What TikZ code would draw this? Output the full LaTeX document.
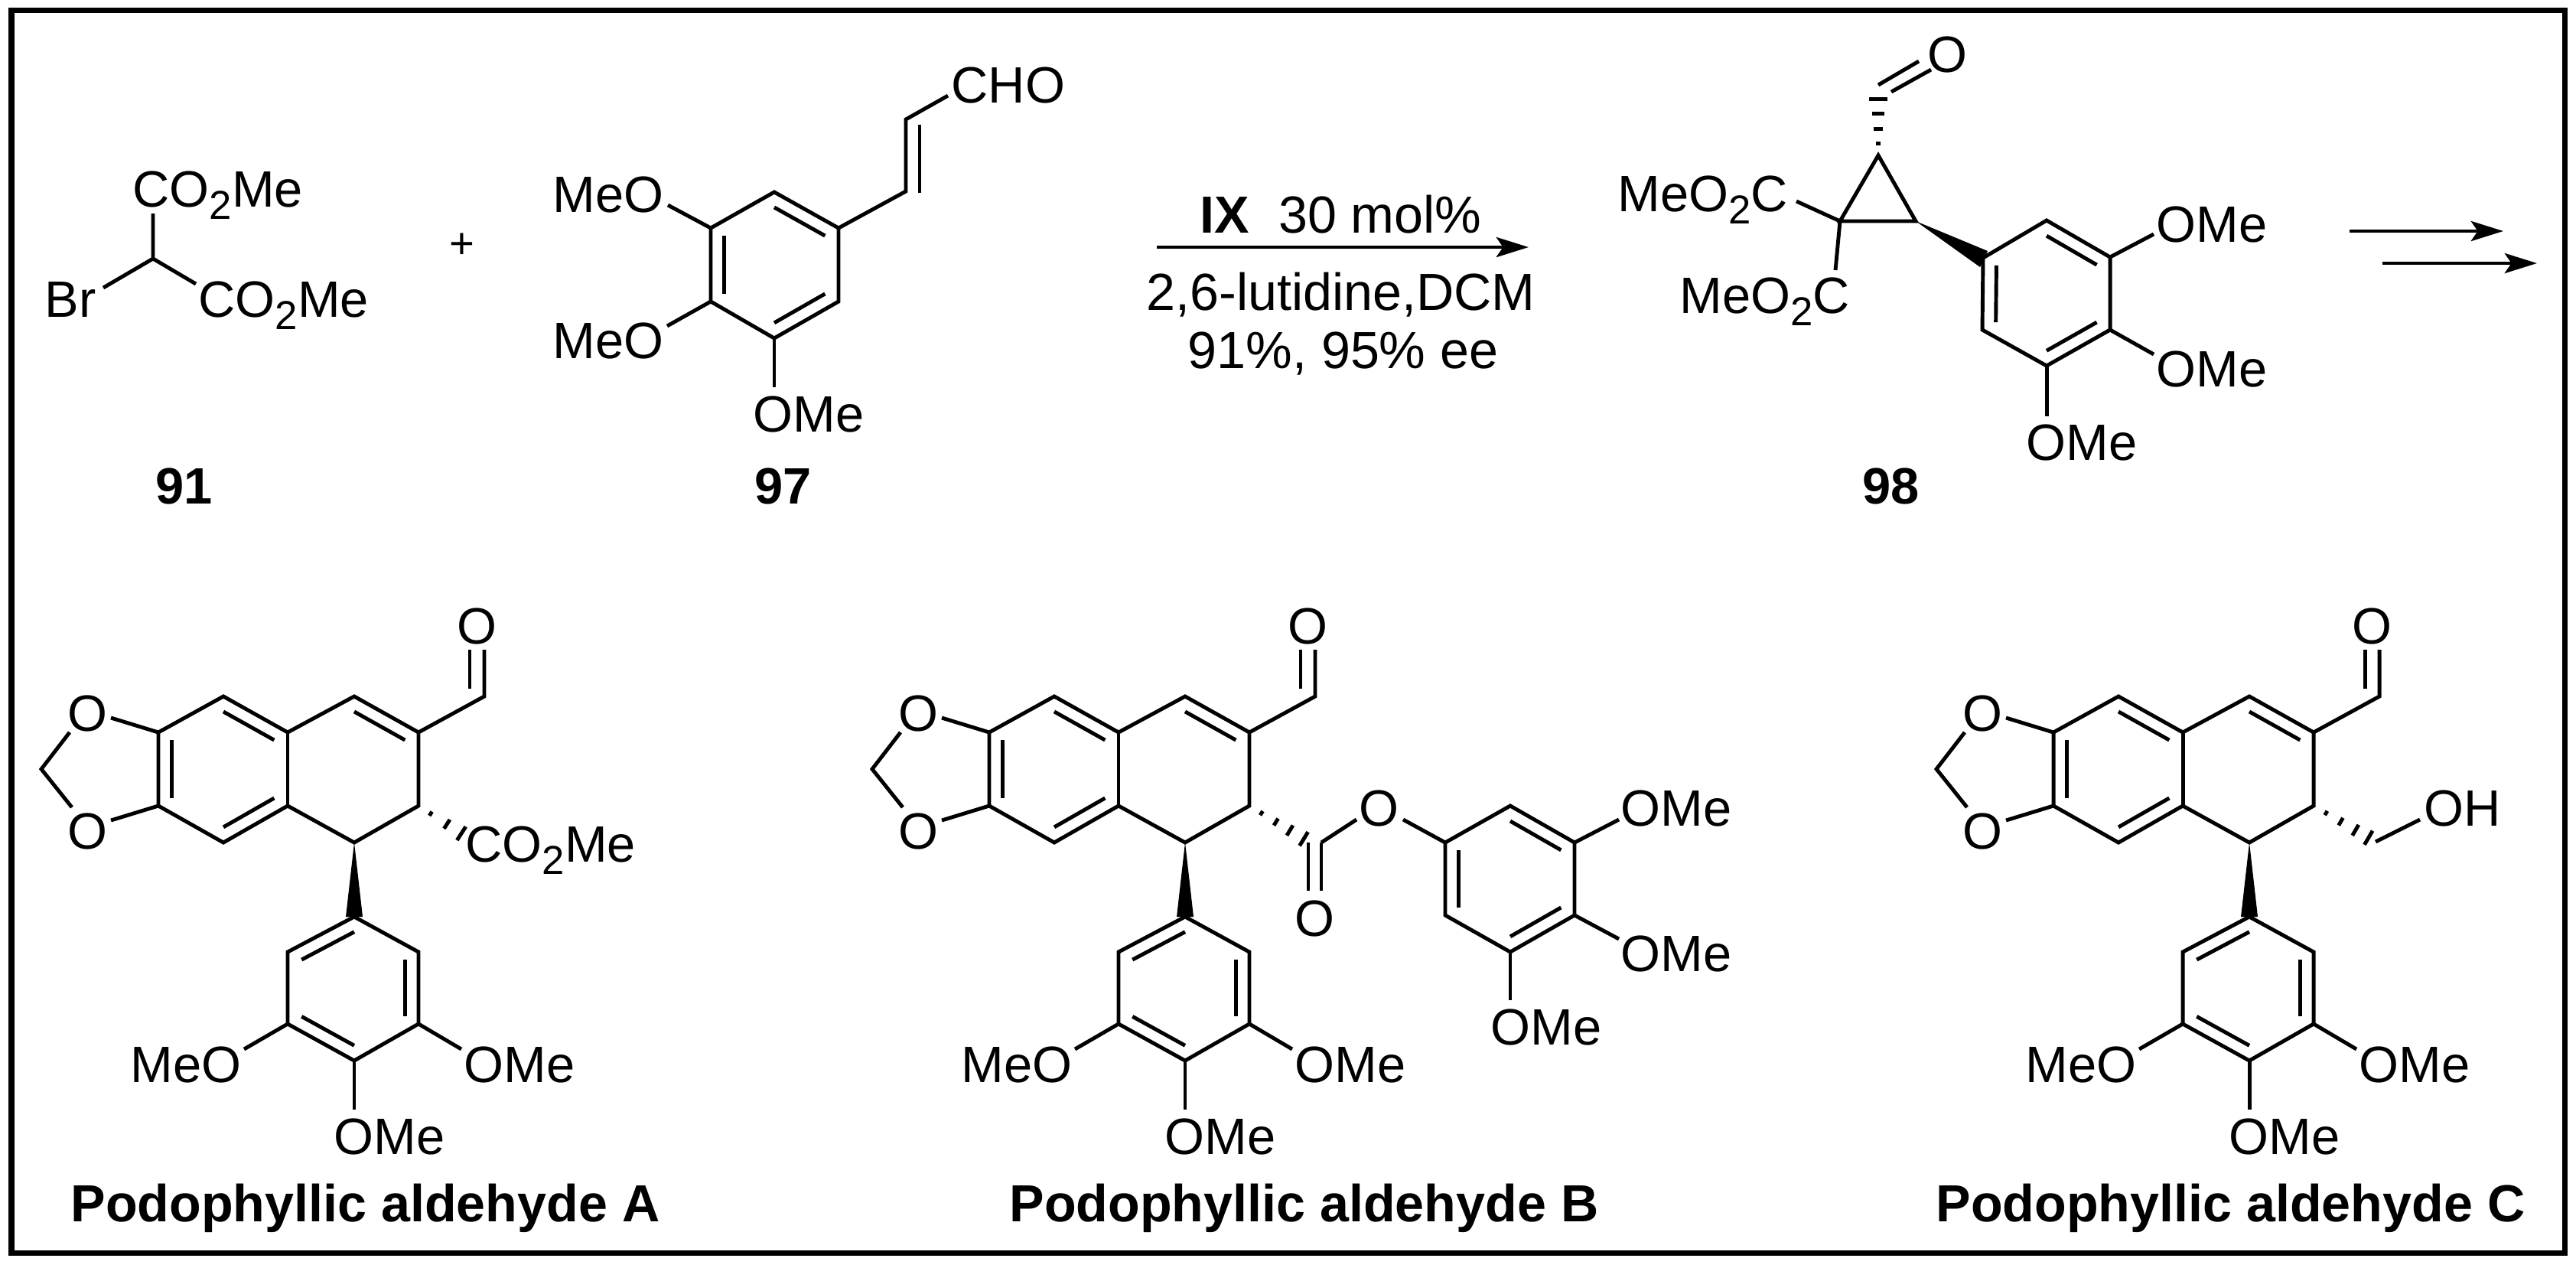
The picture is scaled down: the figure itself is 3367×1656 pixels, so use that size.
\documentclass[tikz,border=0pt]{standalone}
\usepackage{fontspec}
\setmainfont{Liberation Sans}
\usetikzlibrary{calc,arrows.meta}
\newcommand{\subtwo}{\raisebox{-.24em}{\fontsize{15}{15}\selectfont 2}}
\newcommand{\innerbond}[3]{\draw[bond]($(#1)!.21!(#3)$)--($(#2)!.21!(#3)$);}
\newcommand{\hashbond}[3]{\foreach \s/\w in {#3}{\draw[bond]($(#1)!\s!(#2)!\w pt!90:(#2)$)--($(#1)!\s!(#2)!\w pt!-90:(#2)$);}}
\tikzset{
  bond/.style={line width=1.4pt,line cap=butt},
  lab/.style={anchor=base west,inner sep=0pt,font=\fontsize{19}{20}\selectfont},
  cond/.style={anchor=base west,inner sep=0pt,font=\fontsize{19.4}{20}\selectfont},
  numlab/.style={anchor=base west,inner sep=0pt,font=\fontsize{19}{20}\selectfont\bfseries},
  titlelab/.style={anchor=base west,inner sep=0pt,font=\fontsize{19.4}{20}\selectfont\bfseries},
  rxn/.style={line width=1.4pt,-{Stealth[length=12pt,width=7.4pt,inset=2.5pt]}},
  pics/podocore/.style={code={
    \foreach \n/\x/\y in {ch/54/1005,oa/91/957,ob/94/1055,oc/145/938,od/145/1072,
      a1/207/957,a2/207/1053,a3/292/910,a4/376/957,a5/376/1053,a6/292/1101,
      b1/463/910,b2/547/957,b3/547/1053,b4/463/1101,ca/292/1005,cb/463/1005,
      cho/633/910,ce/633/849,cf/614/849,cg/614/900,
      t/463/1198,tl/376/1244,tr/547/1244,bl/376/1338,br/547/1338,bt/463/1386,ct/463/1292,
      wl/452/1198,wr/474/1198,ml/319/1371,mr/603/1371,mb/463/1450}
      \coordinate(-\n) at(\x,\y);
    \node[lab](-otop) at(88,955){O};
    \node[lab](-obot) at(88,1109){O};
    \node[lab](-oald) at(597,841){O};
    \node[lab](-meo) at(170,1414){MeO};
    \node[lab](-omer) at(606,1414){OMe};
    \node[lab](-omeb) at(436,1508){OMe};
    \draw[bond,line join=miter](-oa)--(-ch)--(-ob);
    \draw[bond](-oc)--(-a1)--(-a2)--(-od);
    \draw[bond](-a1)--(-a3)--(-a4)--(-b1)--(-b2)--(-b3)--(-b4)--(-a5)--(-a6)--(-a2);
    \draw[bond](-a4)--(-a5);
    \draw[bond](-b2)--(-cho)--(-ce);
    \draw[bond](-cf)--(-cg);
    \innerbond{-a1}{-a2}{-ca}
    \innerbond{-a3}{-a4}{-ca}
    \innerbond{-a5}{-a6}{-ca}
    \innerbond{-b1}{-b2}{-cb}
    \fill(-b4)--(-wl)--(-wr)--cycle;
    \draw[bond,line join=miter](-t)--(-tl)--(-bl)--(-bt)--(-br)--(-tr)--cycle;
    \innerbond{-t}{-tl}{-ct}
    \innerbond{-tr}{-br}{-ct}
    \innerbond{-bl}{-bt}{-ct}
    \draw[bond](-bl)--(-ml);
    \draw[bond](-br)--(-mr);
    \draw[bond](-bt)--(-mb);
  }}
}
\begin{document}
\begin{tikzpicture}[x=.01cm,y=-.01cm]
\useasboundingbox(0,0)rectangle(3367,1656);
\draw[line width=2pt](15,13)rectangle(3352,1637);
\coordinate(m1) at(200,338);
\coordinate(m2) at(200,279);
\coordinate(m3) at(135,376);
\coordinate(m4) at(256,371);
\node[lab](est1) at(173,270){CO\subtwo Me};
\node[lab](est2) at(259,414){CO\subtwo Me};
\node[lab](brom) at(58,414){Br};
\draw[bond](m2)--(m1)--(m3);
\draw[bond](m1)--(m4);
\node[lab,font=\fontsize{16}{16}\selectfont,anchor=center](plus) at(604,321){+};
\node[numlab](n91) at(203,658){91};
\foreach \n/\x/\y in {r1/1012/251,r2/929/298,r3/929/394,r4/1012/442,r5/1096/394,r6/1096/298,rc/1012/346,
  v1/1184/250,v2/1184/156,v3/1202/163,v4/1202/252,v5/1239/125,e1/873/268,e2/872/426,e3/1012/506}
  \coordinate(\n) at(\x,\y);
\draw[bond,line join=miter](r1)--(r2)--(r3)--(r4)--(r5)--(r6)--cycle;
\innerbond{r2}{r3}{rc}
\innerbond{r1}{r6}{rc}
\innerbond{r4}{r5}{rc}
\draw[bond,line join=miter](r6)--(v1)--(v2)--(v5);
\draw[bond](v3)--(v4);
\draw[bond](r2)--(e1);
\draw[bond](r3)--(e2);
\draw[bond](r4)--(e3);
\node[lab](cho97) at(1243,134){CHO};
\node[lab](meo1) at(722,277){MeO};
\node[lab](meo2) at(722,468){MeO};
\node[lab](ome97) at(984,564){OMe};
\node[numlab](n97) at(986,658){97};
\coordinate(arw1) at(1512,323);
\coordinate(arw2) at(1998,323);
\draw[rxn](arw1)--(arw2);
\node[cond](cat) at(1568,304){\textbf{IX}\ \ 30 mol\%};
\node[cond](base) at(1498,405){2,6-lutidine,DCM};
\node[cond](yield) at(1552,481){91\%, 95\% ee};
\foreach \n/\x/\y in {p1/2455/203,p2/2405/289,p3/2504/289,p4/2455/127,
  f1/2455/111,f2/2508/80,f3/2472/120,f4/2524/91,g1/2348/263,g2/2399/353,
  w1/2598/328,w2/2588/349,c1/2592/337,c2/2675/288,c3/2758/336,c4/2758/431,c5/2675/478,c6/2591/431,cc/2675/384,
  h1/2815/306,h2/2815/463,h3/2675/544}
  \coordinate(\n) at(\x,\y);
\draw[bond,line join=miter](p1)--(p2)--(p3)--cycle;
\hashbond{p1}{p4}{.2/.9,.46/1.6,.72/2.3,.97/3.4}
\draw[bond](f1)--(f2);
\draw[bond](f3)--(f4);
\draw[bond](p2)--(g1);
\draw[bond](p2)--(g2);
\fill(p3)--(w1)--(w2)--cycle;
\draw[bond,line join=miter](c1)--(c2)--(c3)--(c4)--(c5)--(c6)--cycle;
\innerbond{c2}{c3}{cc}
\innerbond{c4}{c5}{cc}
\innerbond{c1}{c6}{cc}
\draw[bond](c3)--(h1);
\draw[bond](c4)--(h2);
\draw[bond](c5)--(h3);
\node[lab](oald98) at(2519,94){O};
\node[lab](est3) at(2114,276){MeO\subtwo C};
\node[lab](est4) at(2195,409){MeO\subtwo C};
\node[lab](ome1) at(2818,316){OMe};
\node[lab](ome2) at(2818,505){OMe};
\node[lab](ome3) at(2648,601){OMe};
\node[numlab](n98) at(2434,658){98};
\coordinate(arw3) at(3071,302);
\coordinate(arw4) at(3272,302);
\coordinate(arw5) at(3114,344);
\coordinate(arw6) at(3316,344);
\draw[rxn](arw3)--(arw4);
\draw[rxn](arw5)--(arw6);
\pic(A) at(0,0){podocore};
\coordinate(Ah) at(606,1091);
\hashbond{A-b3}{Ah}{.27/.9,.63/2,.95/3}
\node[lab](estA) at(608,1126){CO\subtwo Me};
\node[titlelab](titleA) at(92,1596){Podophyllic aldehyde A};
\pic(B) at(1086,0){podocore};
\foreach \n/\x/\y in {q0/1723/1101,q1/1710/1101,q2/1710/1164,q3/1727/1101,q4/1727/1164,q5/1773/1071,q6/1834/1071,
  s1/1889/1101,s2/1974/1053,s3/2058/1101,s4/2058/1196,s5/1974/1244,s6/1889/1196,sc/1974/1148,
  u1/2116/1071,u2/2116/1227,u3/1974/1307,qh/1712/1101}
  \coordinate(\n) at(\x,\y);
\hashbond{B-b3}{qh}{.2/.9,.44/1.5,.67/2.2,.9/3}
\draw[bond](q3)--(q4);
\draw[bond](q1)--(q2);
\draw[bond](q5)--(q3);
\draw[bond](q6)--(s1);
\draw[bond,line join=miter](s1)--(s2)--(s3)--(s4)--(s5)--(s6)--cycle;
\innerbond{s2}{s3}{sc}
\innerbond{s4}{s5}{sc}
\innerbond{s1}{s6}{sc}
\draw[bond](s3)--(u1);
\draw[bond](s4)--(u2);
\draw[bond](s5)--(u3);
\node[lab](oket) at(1692,1223){O};
\node[lab](oest) at(1776,1079){O};
\node[lab](omeB1) at(2118,1079){OMe};
\node[lab](omeB2) at(2118,1269){OMe};
\node[lab](omeB3) at(1948,1365){OMe};
\node[titlelab](titleB) at(1319,1596){Podophyllic aldehyde B};
\pic(C) at(2477,0){podocore};
\coordinate(k1) at(3105,1100);
\coordinate(k2) at(3163,1071);
\coordinate(kh) at(3098,1096);
\hashbond{C-b3}{kh}{.22/.9,.48/1.6,.74/2.3,.97/3}
\draw[bond](k1)--(k2);
\node[lab](oh) at(3168,1079){OH};
\node[titlelab](titleC) at(2530,1596){Podophyllic aldehyde C};
\end{tikzpicture}
\end{document}
